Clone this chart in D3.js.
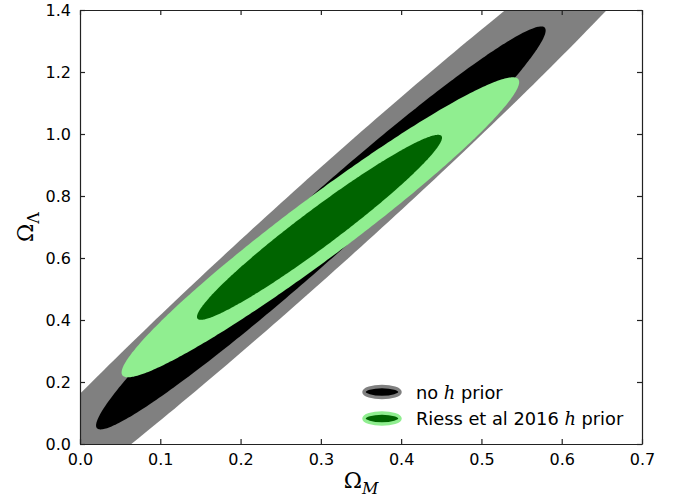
<!DOCTYPE html>
<html>
<head>
<meta charset="utf-8">
<script src="https://cdn.jsdelivr.net/npm/d3@7"></script>
<style>
  body { margin: 0; background: #fff; }
  svg { display: block; font-family: "DejaVu Sans", sans-serif; }
</style>
</head>
<body>
<svg id="chart"></svg>
<script>
// confidence contours in (Omega_M, Omega_Lambda)
const contourNames = ["no h prior 2s", "no h prior 1s", "Riess 2s", "Riess 1s"];
const centerM = [0.300, 0.300, 0.2994, 0.2983];
const centerL = [0.7065, 0.697, 0.699, 0.699];
const halfM = [0.4854, 0.280, 0.2476, 0.1526];   // half extent along Omega_M
const halfL = [1.1335, 0.650, 0.4839, 0.2984];   // half extent along Omega_Lambda
const corr = [0.9864, 0.980, 0.968, 0.968];
const contourColors = ["#808080", "#000000", "#90ee90", "#006400"];

const xTicks = [0.0, 0.1, 0.2, 0.3, 0.4, 0.5, 0.6, 0.7];
const yTicks = [0.0, 0.2, 0.4, 0.6, 0.8, 1.0, 1.2, 1.4];

const legendLabels = [["no ", "h", " prior"], ["Riess et al 2016 ", "h", " prior"]];
const legendOuter = ["#808080", "#90ee90"];
const legendInner = ["#000000", "#006400"];

const config = {
    width: 681, height: 501,
    margin: { top: 10, right: 39, bottom: 57, left: 80 }
};
const w = config.width - config.margin.left - config.margin.right;
const h = config.height - config.margin.top - config.margin.bottom;

const svg = d3.select("#chart")
    .attr("width", config.width)
    .attr("height", config.height);

const x = d3.scaleLinear().domain([0, 0.7]).range([0, w]);
const y = d3.scaleLinear().domain([0, 1.4]).range([h, 0]);

const g = svg.append("g")
    .attr("transform", `translate(${config.margin.left},${config.margin.top})`);

g.append("defs").append("clipPath")
    .attr("id", "clip")
    .append("rect")
    .attr("width", w)
    .attr("height", h);

// ellipse outline for a correlated gaussian contour
function ellipsePoints(i) {
    const s = Math.sqrt(1 - corr[i] * corr[i]);
    return d3.range(0, 360, 1).map(a => {
        const t = a * Math.PI / 180;
        return [
            centerM[i] + halfM[i] * Math.cos(t),
            centerL[i] + halfL[i] * (corr[i] * Math.cos(t) + s * Math.sin(t))
        ];
    });
}

const line = d3.line()
    .x(d => x(d[0]))
    .y(d => y(d[1]));

g.append("g")
    .attr("clip-path", "url(#clip)")
    .selectAll("path")
    .data(contourNames)
    .join("path")
    .attr("d", (d, i) => line(ellipsePoints(i)) + "Z")
    .attr("fill", (d, i) => contourColors[i])
    .attr("stroke", "none");

// axes with inward ticks on all four sides
const tickLen = 5;
const fmt = d3.format(".1f");

const xAxisG = g.append("g")
    .attr("transform", `translate(0,${h})`)
    .call(d3.axisBottom(x).tickValues(xTicks).tickFormat(fmt).tickSizeInner(-tickLen).tickSizeOuter(0).tickPadding(10));
const yAxisG = g.append("g")
    .call(d3.axisLeft(y).tickValues(yTicks).tickFormat(fmt).tickSizeInner(-tickLen).tickSizeOuter(0).tickPadding(9));
const xTopG = g.append("g")
    .call(d3.axisTop(x).tickValues(xTicks).tickFormat("").tickSizeInner(-tickLen).tickSizeOuter(0));
const yRightG = g.append("g")
    .attr("transform", `translate(${w},0)`)
    .call(d3.axisRight(y).tickValues(yTicks).tickFormat("").tickSizeInner(-tickLen).tickSizeOuter(0));

[xAxisG, yAxisG, xTopG, yRightG].forEach(a => {
    a.selectAll(".domain").attr("stroke", "#222").attr("stroke-width", 1.2);
    a.selectAll(".tick line").attr("stroke", "#222").attr("stroke-width", 1.2);
    a.selectAll(".tick text")
        .attr("fill", "#000")
        .attr("font-size", "16px")
        .attr("font-family", "DejaVu Sans, sans-serif");
});

// axis titles
const xTitle = svg.append("text")
    .attr("x", config.margin.left + w / 2)
    .attr("y", 488)
    .attr("text-anchor", "middle")
    .attr("font-family", "DejaVu Serif, serif")
    .attr("font-size", "22px");
xTitle.append("tspan").text("Ω");
xTitle.append("tspan")
    .attr("dy", 6)
    .attr("font-size", "16px")
    .attr("font-style", "italic")
    .text("M");

const yTitle = svg.append("text")
    .attr("transform", `translate(33,${config.margin.top + h / 2}) rotate(-90)`)
    .attr("text-anchor", "middle")
    .attr("font-family", "DejaVu Serif, serif")
    .attr("font-size", "22px");
yTitle.append("tspan").text("Ω");
yTitle.append("tspan")
    .attr("dy", 6)
    .attr("font-size", "16px")
    .text("Λ");

// legend
const legend = svg.append("g")
    .attr("transform", "translate(382,392)");

legendLabels.forEach((parts, i) => {
    const row = legend.append("g")
        .attr("transform", `translate(0,${i * 26.5})`);
    row.append("ellipse")
        .attr("rx", 18)
        .attr("ry", 5.5)
        .attr("fill", legendInner[i])
        .attr("stroke", legendOuter[i])
        .attr("stroke-width", 3.5);
    const t = row.append("text")
        .attr("x", 34)
        .attr("y", 6.5)
        .attr("font-size", "17.8px");
    t.append("tspan").text(parts[0]);
    t.append("tspan")
        .attr("font-family", "DejaVu Serif, serif")
        .attr("font-style", "italic")
        .text(parts[1]);
    t.append("tspan").text(parts[2]);
});
</script>
</body>
</html>
